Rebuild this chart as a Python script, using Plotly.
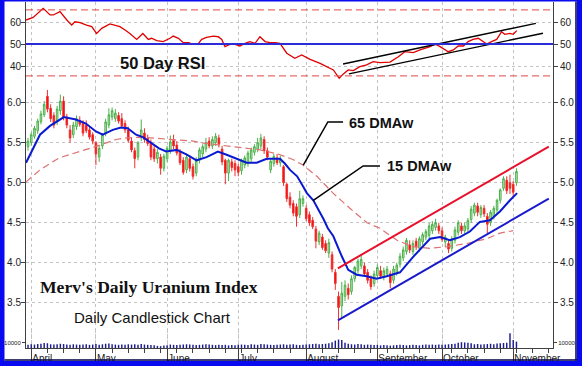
import plotly.graph_objects as go

# ---------------- data ----------------
# trading-day index (0 = last day of March, 150 = 1 November)
day = list(range(152))
opn = [5.45, 5.50, 5.58, 5.65, 5.76, 5.85, 6.08, 5.93, 5.84, 5.76,
       5.90, 6.02, 5.82, 5.66, 5.60, 5.70, 5.78, 5.74, 5.72, 5.66,
       5.60, 5.50, 5.32, 5.46, 5.62, 5.72, 5.82, 5.80, 5.84, 5.80,
       5.74, 5.66, 5.52, 5.40, 5.32, 5.56, 5.62, 5.56, 5.50, 5.42,
       5.30, 5.32, 5.18, 5.30, 5.40, 5.53, 5.47, 5.38, 5.28, 5.16,
       5.30, 5.20, 5.12, 5.28, 5.36, 5.42, 5.52, 5.46, 5.50, 5.56,
       5.42, 5.28, 5.12, 5.26, 5.24, 5.20, 5.15, 5.22, 5.24, 5.30,
       5.38, 5.42, 5.46, 5.54, 5.40, 5.16, 5.24, 5.31, 5.25, 5.20,
       4.98, 4.82, 4.74, 4.70, 4.60, 4.74, 4.68, 4.60, 4.53, 4.42,
       4.26, 4.32, 4.24, 4.12, 4.10, 3.88, 3.58, 3.46, 3.58, 3.68,
       3.64, 3.80, 3.90, 3.96, 3.96, 3.88, 3.80, 3.74, 3.84, 3.90,
       3.82, 3.86, 3.86, 3.78, 3.88, 3.98, 4.06, 4.14, 4.22, 4.14,
       4.27, 4.18, 4.26, 4.32, 4.34, 4.40, 4.44, 4.46, 4.40, 4.26,
       4.24, 4.18, 4.28, 4.38, 4.46, 4.40, 4.42, 4.54, 4.62, 4.71,
       4.60, 4.68, 4.58, 4.50, 4.58, 4.66, 4.78, 4.93, 5.03, 5.00,
       4.98, 5.00]
high = [5.56, 5.63, 5.71, 5.80, 5.90, 6.02, 6.16, 5.98, 5.88, 5.96,
        6.10, 6.08, 5.86, 5.72, 5.76, 5.84, 5.83, 5.78, 5.78, 5.70,
        5.63, 5.52, 5.46, 5.62, 5.80, 5.93, 5.94, 5.92, 5.88, 5.87,
        5.78, 5.70, 5.56, 5.44, 5.52, 5.79, 5.68, 5.60, 5.54, 5.46,
        5.42, 5.36, 5.36, 5.46, 5.59, 5.60, 5.52, 5.42, 5.32, 5.36,
        5.34, 5.24, 5.32, 5.44, 5.48, 5.56, 5.57, 5.58, 5.62, 5.60,
        5.46, 5.30, 5.30, 5.30, 5.28, 5.24, 5.30, 5.34, 5.40, 5.44,
        5.48, 5.56, 5.61, 5.58, 5.44, 5.30, 5.36, 5.36, 5.34, 5.22,
        5.00, 4.88, 4.78, 4.74, 4.90, 4.84, 4.72, 4.64, 4.57, 4.46,
        4.40, 4.36, 4.28, 4.30, 4.14, 3.92, 3.64, 3.76, 3.78, 3.74,
        3.84, 3.96, 4.05, 4.10, 4.00, 3.92, 3.84, 3.90, 3.98, 3.96,
        3.94, 3.96, 3.90, 3.96, 4.00, 4.12, 4.20, 4.31, 4.28, 4.28,
        4.31, 4.33, 4.38, 4.42, 4.50, 4.52, 4.55, 4.50, 4.44, 4.35,
        4.28, 4.33, 4.45, 4.53, 4.50, 4.50, 4.56, 4.71, 4.75, 4.75,
        4.72, 4.72, 4.62, 4.66, 4.71, 4.80, 4.93, 5.08, 5.08, 5.10,
        5.02, 5.18]
low = [5.40, 5.46, 5.55, 5.61, 5.73, 5.82, 5.88, 5.76, 5.68, 5.72,
       5.85, 5.78, 5.68, 5.50, 5.56, 5.66, 5.70, 5.58, 5.62, 5.54,
       5.48, 5.22, 5.26, 5.42, 5.58, 5.68, 5.78, 5.76, 5.74, 5.68,
       5.62, 5.50, 5.38, 5.18, 5.28, 5.52, 5.50, 5.46, 5.28, 5.26,
       5.24, 5.10, 5.14, 5.26, 5.36, 5.42, 5.34, 5.22, 5.10, 5.12,
       5.14, 5.04, 5.08, 5.24, 5.32, 5.38, 5.43, 5.42, 5.46, 5.44,
       5.22, 4.98, 5.02, 5.14, 5.08, 5.08, 5.10, 5.18, 5.20, 5.26,
       5.34, 5.38, 5.42, 5.36, 5.28, 5.12, 5.20, 5.22, 5.20, 4.96,
       4.76, 4.68, 4.58, 4.45, 4.56, 4.70, 4.52, 4.46, 4.42, 4.18,
       4.22, 4.16, 4.12, 4.06, 3.88, 3.66, 3.16, 3.30, 3.52, 3.54,
       3.60, 3.76, 3.86, 3.92, 3.84, 3.74, 3.66, 3.70, 3.80, 3.80,
       3.78, 3.82, 3.68, 3.74, 3.84, 3.94, 4.02, 4.10, 4.12, 4.10,
       4.16, 4.14, 4.22, 4.28, 4.30, 4.36, 4.40, 4.36, 4.26, 4.20,
       4.12, 4.14, 4.24, 4.34, 4.36, 4.36, 4.38, 4.50, 4.58, 4.58,
       4.56, 4.57, 4.37, 4.46, 4.54, 4.62, 4.74, 4.90, 4.86, 4.86,
       4.82, 4.96]
close = [5.52, 5.60, 5.68, 5.77, 5.86, 5.98, 5.92, 5.80, 5.72, 5.92,
         6.02, 5.82, 5.72, 5.56, 5.72, 5.80, 5.73, 5.62, 5.65, 5.57,
         5.52, 5.36, 5.43, 5.60, 5.76, 5.85, 5.90, 5.87, 5.77, 5.71,
         5.66, 5.53, 5.41, 5.30, 5.50, 5.66, 5.54, 5.49, 5.32, 5.30,
         5.38, 5.18, 5.33, 5.43, 5.51, 5.46, 5.37, 5.25, 5.13, 5.32,
         5.18, 5.08, 5.28, 5.41, 5.45, 5.50, 5.46, 5.54, 5.58, 5.48,
         5.26, 5.12, 5.28, 5.19, 5.16, 5.13, 5.28, 5.31, 5.37, 5.41,
         5.45, 5.50, 5.56, 5.40, 5.32, 5.27, 5.33, 5.25, 5.30, 5.00,
         4.80, 4.72, 4.62, 4.58, 4.80, 4.80, 4.55, 4.50, 4.45, 4.27,
         4.37, 4.19, 4.15, 4.25, 3.92, 3.74, 3.44, 3.62, 3.72, 3.60,
         3.80, 3.94, 4.02, 4.04, 3.86, 3.78, 3.70, 3.86, 3.94, 3.83,
         3.90, 3.92, 3.75, 3.92, 3.97, 4.08, 4.16, 4.28, 4.16, 4.24,
         4.20, 4.30, 4.35, 4.39, 4.46, 4.48, 4.50, 4.40, 4.29, 4.32,
         4.17, 4.30, 4.41, 4.50, 4.40, 4.46, 4.53, 4.67, 4.72, 4.63,
         4.69, 4.61, 4.48, 4.63, 4.68, 4.78, 4.91, 5.05, 4.90, 4.93,
         4.88, 5.14]
volume = [6000, 7000, 6500, 7500, 8000, 9500, 9000, 7000, 6500, 7000,
          8000, 7500, 6500, 6000, 7000, 6500, 6000, 6500, 7000, 6000,
          6500, 7500, 6000, 7000, 8000, 8500, 7000, 6500, 6000, 6500,
          6000, 7000, 6500, 7000, 6000, 7500, 6500, 6000, 5500, 5000,
          4000, 3500, 4500, 5000, 6500, 6000, 5500, 6000, 6500, 7000,
          6500, 6000, 5500, 6000, 6500, 7000, 6500, 6000, 5500, 6000,
          5500, 6000, 5000, 5500, 5000, 6000, 6500, 6000, 5500, 7000,
          6500, 6000, 7500, 7000, 6500, 6000, 5500, 6000, 6500, 7000,
          6000, 6500, 7000, 6000, 5500, 6000, 6500, 7000, 7500, 8000,
          7000, 7500, 8000, 9000, 11000, 14000, 16000, 15000, 10000, 8000,
          7000, 6500, 7500, 7000, 6000, 6500, 6000, 5500, 6000, 5000,
          5500, 5000, 4500, 5000, 5500, 6000, 5500, 5000, 5500, 6000,
          5500, 5000, 6000, 6500, 6000, 6500, 6000, 6500, 6000, 6500,
          7000, 7500, 8000, 10000, 11000, 10500, 10000, 9000, 7000, 7500,
          6500, 7000, 7500, 8000, 7000, 8500, 9000, 9500, 10000, 28000,
          15000, 12000]

ma15_day = [-0.6, 3.7, 6.8, 11.1, 14.8, 17.9, 21.0, 23.1, 26.2, 28.7, 30.8, 33.4,
            35.5, 37.4, 40.5, 42.7, 46.0, 49.1, 52.1, 55.2, 58.7, 61.4, 64.5,
            67.6, 70.7, 73.8, 77.9, 79.4, 81.0, 83.2, 85.1, 86.2, 88.2, 89.3,
            91.3, 92.7, 94.4, 97.0, 99.0, 101.6, 104.7, 107.8, 110.9, 115.0,
            119.0, 124.3, 127.4, 130.4, 133.5, 136.6, 139.7, 142.8, 145.9,
            149.0, 151.2]
ma15_val = [5.25, 5.60, 5.71, 5.82, 5.79, 5.74, 5.64, 5.60, 5.66, 5.69, 5.68, 5.60,
            5.57, 5.52, 5.43, 5.39, 5.41, 5.35, 5.28, 5.32, 5.39, 5.35, 5.30,
            5.25, 5.25, 5.30, 5.30, 5.24, 5.16, 5.08, 4.95, 4.87, 4.78, 4.70,
            4.55, 4.43, 4.33, 4.08, 3.91, 3.85, 3.83, 3.80, 3.83, 3.88,
            4.07, 4.30, 4.32, 4.28, 4.32, 4.39, 4.51, 4.53, 4.64,
            4.78, 4.87]

ma65_day = [-0.6, 3.7, 9.6, 12.0, 20.0, 22.3, 27.2, 30.3, 34.6, 40.8, 47.0, 51.0,
            53.2, 59.4, 66.5, 71.7, 73.9, 77.9, 81.9, 85.0, 89.3, 91.2, 94.3,
            99.5, 101.7, 104.8, 108.8, 114.1, 119.0, 124.3, 129.5, 135.7,
            141.9, 145.9, 150.0]
ma65_val = [5.01, 5.16, 5.31, 5.34, 5.44, 5.47, 5.54, 5.56, 5.57, 5.55, 5.53, 5.52,
            5.50, 5.47, 5.43, 5.41, 5.39, 5.35, 5.29, 5.22, 5.08, 5.00, 4.87,
            4.68, 4.60, 4.50, 4.43, 4.28, 4.20, 4.18, 4.20, 4.24,
            4.30, 4.37, 4.40]

rsi_day = [-0.6, 1.6, 4.7, 6.8, 7.8, 9.9, 12.0, 13.5, 14.5, 16.1, 18.1, 19.7,
           21.2, 22.8, 25.3, 26.9, 28.4, 30.0, 31.5, 33.6, 35.5, 37.2, 38.2,
           39.8, 41.8, 43.9, 44.9, 46.5, 48.0, 49.6, 51.1, 52.7, 53.7, 55.2,
           57.3, 58.8, 59.9, 60.9, 62.4, 64.0, 65.5, 67.1, 68.6, 70.2, 71.7,
           73.3, 74.8, 76.4, 77.9, 80.0, 82.5, 84.6, 87.2, 90.3, 92.3, 94.4,
           96.2, 97.5, 99.0, 100.6, 102.6, 104.7, 106.7, 108.8, 111.9, 114.5,
           116.5, 119.1, 121.2, 124.3, 125.8, 127.4, 129.9, 131.5, 133.0,
           134.6, 136.1, 137.6, 139.2, 140.2, 141.8, 143.3, 144.9, 146.4,
           147.4, 149.0, 150.0, 151.1]
rsi_val = [60.9, 62.1, 66.2, 63.2, 63.2, 64.7, 60.9, 58.6, 60.1, 59.7, 58.6, 57.9,
           54.8, 57.1, 59.1, 58.6, 57.9, 56.4, 54.8, 52.1, 54.8, 52.1, 52.6,
           51.5, 51.1, 52.6, 53.6, 52.6, 50.6, 50.6, 49.8, 50.3, 52.1, 53.0,
           53.6, 53.3, 52.1, 48.8, 49.8, 49.8, 49.1, 50.3, 51.1, 50.3, 53.3,
           51.1, 50.6, 50.6, 50.3, 45.8, 43.5, 45.0, 43.0, 41.2, 39.7, 38.2,
           34.4, 36.4, 38.2, 37.9, 39.7, 40.5, 42.0, 41.5, 41.8, 44.2,
           46.5, 46.1, 47.3, 48.8, 50.0, 48.8, 46.5, 47.3, 49.1,
           49.1, 51.1, 52.1, 52.6, 51.5, 50.0, 51.1, 52.1, 55.6,
           54.4, 54.8, 54.4, 56.1]

month_day = [1, 21, 43, 65, 86, 108, 128, 150]
month_name = ["April", "May", "June", "July", "August", "September", "October", "November"]
price_ticks = [3.5, 4.0, 4.5, 5.0, 5.5, 6.0]
rsi_ticks = [40, 50, 60]
rsi_mid, rsi_hi, rsi_lo = 50, 65.5, 35.5
vol_ticks = [10000]

chan_up_day, chan_up_val = [95.8, 161.0], [3.93, 5.45]
chan_lo_day, chan_lo_val = [95.8, 161.0], [3.28, 4.80]
rsi_up_day, rsi_up_val = [97.4, 157.0], [40.9, 59.4]
rsi_lo_day, rsi_lo_val = [99.2, 159.2], [36.4, 54.9]

# ---------------- geometry helpers (pixel -> paper) ----------------
PL, PR, PT, PB = 26, 553, 2, 348


def fx(p):
    return (p - PL) / (PR - PL)


def fy(p):
    return (PB - p) / (PB - PT)


SANS = "Liberation Sans, Arial, sans-serif"
SERIF = "Liberation Serif, Times New Roman, serif"
GRID = "#c4c4c4"
AX = "#404040"

fig = go.Figure()

fig.add_trace(go.Bar(x=day, y=volume, yaxis="y3", width=0.45,
                     marker=dict(color="#1c1c8c", line=dict(width=0)),
                     hoverinfo="skip"))

fig.add_trace(go.Scatter(x=ma65_day, y=ma65_val, mode="lines",
                         line=dict(color="#e07070", width=1.2, dash="7px,4px"),
                         hoverinfo="skip"))

fig.add_trace(go.Candlestick(
    x=day, open=opn, high=high, low=low, close=close,
    increasing=dict(line=dict(color="#4cb04c", width=1), fillcolor="#c2e8bc"),
    decreasing=dict(line=dict(color="#ee3030", width=1), fillcolor="#ff0000"),
    whiskerwidth=0, hoverinfo="skip"))

fig.add_trace(go.Scatter(x=ma15_day, y=ma15_val, mode="lines",
                         line=dict(color="#0a1ad0", width=2), hoverinfo="skip"))

fig.add_trace(go.Scatter(x=chan_up_day, y=chan_up_val, mode="lines",
                         line=dict(color="#e8102a", width=2), hoverinfo="skip"))
fig.add_trace(go.Scatter(x=chan_lo_day, y=chan_lo_val, mode="lines",
                         line=dict(color="#1a1acc", width=2), hoverinfo="skip"))

fig.add_trace(go.Scatter(x=rsi_day, y=rsi_val, yaxis="y2", mode="lines",
                         line=dict(color="#e00000", width=1.3), hoverinfo="skip"))
fig.add_trace(go.Scatter(x=rsi_up_day, y=rsi_up_val, yaxis="y2", mode="lines",
                         line=dict(color="#000000", width=1.4), hoverinfo="skip"))
fig.add_trace(go.Scatter(x=rsi_lo_day, y=rsi_lo_val, yaxis="y2", mode="lines",
                         line=dict(color="#000000", width=1.4), hoverinfo="skip"))

# dummy traces so that the right-hand mirror axes are drawn
for ax in ["y4", "y5", "y6"]:
    fig.add_trace(go.Scatter(x=[None], y=[None], yaxis=ax, mode="lines",
                             hoverinfo="skip"))

rsi_dom = [fy(88), 1.0]
price_dom = [0.0, fy(88)]
vol_dom = [0.0, fy(330)]
price_range = [6.0 - (PB - 102.7) / 80.0, 6.0 + (102.7 - 88) / 80.0]
rsi_range = [50 - (88 - 44) / 2.2, 50 + (44 - PT) / 2.2]
vol_range = [0, 34000]

tickfont = dict(family=SANS, size=10, color="#222")
common_y = dict(ticks="outside", ticklen=4, tickcolor=AX, tickfont=tickfont,
                zeroline=False, fixedrange=True)

fig.update_layout(
    width=582, height=366,
    margin=dict(l=PL, r=582 - PR, t=PT, b=366 - PB, pad=0),
    paper_bgcolor="white", plot_bgcolor="rgba(0,0,0,0)",
    showlegend=False, hovermode=False, dragmode=False,
    font=dict(family=SANS, size=10, color="#222"),
    xaxis=dict(range=[-0.62, 162.3], anchor="y", tickmode="array",
               tickvals=month_day, ticktext=month_name,
               ticks="outside", ticklen=12, tickcolor=AX, tickfont=tickfont,
               ticklabelposition="outside right", ticklabelstandoff=1,
               showgrid=True, gridcolor=GRID, griddash="dot", gridwidth=1,
               showline=True, linecolor=AX, linewidth=1, zeroline=False,
               rangeslider=dict(visible=False), fixedrange=True,
               minor=dict(tickmode="linear", tick0=1, dtick=5, ticks="outside",
                          ticklen=4, tickcolor=AX, showgrid=False)),
    yaxis=dict(domain=price_dom, range=price_range, tickvals=price_ticks,
               tickformat=".1f", showgrid=True, gridcolor=GRID, griddash="dot",
               showline=True, linecolor=AX, linewidth=1, ticklabelstandoff=-2,
               **common_y),
    yaxis4=dict(overlaying="y", side="right", range=price_range,
                tickvals=price_ticks, tickformat=".1f", showgrid=False,
                showline=True, linecolor=AX, linewidth=1, anchor="x", **common_y),
    yaxis2=dict(domain=rsi_dom, range=rsi_range, tickvals=rsi_ticks, anchor="x",
                showgrid=True, gridcolor=GRID, griddash="dot",
                showline=True, linecolor=AX, linewidth=1, ticklabelstandoff=-2,
                **common_y),
    yaxis5=dict(overlaying="y2", side="right", range=rsi_range, tickvals=rsi_ticks,
                showgrid=False, showline=True, linecolor=AX, linewidth=1,
                anchor="x", **common_y),
    yaxis3=dict(domain=vol_dom, range=vol_range, tickvals=vol_ticks, anchor="x",
                ticktext=["10000"], showgrid=False, showline=False,
                ticks="outside", ticklen=3, tickcolor=AX,
                tickfont=dict(family=SANS, size=6, color="#222"),
                zeroline=False, fixedrange=True),
    yaxis6=dict(overlaying="y3", side="right", range=vol_range, tickvals=vol_ticks,
                ticktext=["10000"], showgrid=False, showline=False, anchor="x",
                ticks="outside", ticklen=3, tickcolor=AX,
                tickfont=dict(family=SANS, size=6, color="#222"),
                zeroline=False, fixedrange=True),
)

shapes = []
# RSI reference levels
shapes.append(dict(type="line", xref="paper", yref="y2", x0=0, x1=1,
                   y0=rsi_mid, y1=rsi_mid, line=dict(color="#2b2bd8", width=2)))
for lv in (rsi_hi, rsi_lo):
    shapes.append(dict(type="line", xref="paper", yref="y2", x0=0, x1=1,
                       y0=lv, y1=lv, line=dict(color="#e04848", width=1, dash="7px,4px")))
# leader lines for the moving-average labels
shapes.append(dict(type="path", xref="x", yref="y",
                   path="M 97.4,5.76 L 92.7,5.76 L 85.1,5.22",
                   line=dict(color="#000", width=1.5)))
shapes.append(dict(type="path", xref="x", yref="y",
                   path="M 108.8,5.21 L 103.6,5.21 L 88.1,4.775",
                   line=dict(color="#000", width=1.5)))
# blue frame around the picture
BLUE = "#0a0af0"
frame = [(0, 0, 4.5, 366), (577, 0, 582, 366), (0, 0, 582, 1.5), (0, 361, 582, 366)]
for x0, y0, x1, y1 in frame:
    shapes.append(dict(type="rect", xref="paper", yref="paper",
                       x0=fx(x0), x1=fx(x1), y0=fy(y1), y1=fy(y0),
                       fillcolor=BLUE, line=dict(width=0), layer="above"))
shapes.append(dict(type="line", xref="paper", yref="paper", x0=fx(576), x1=fx(576),
                   y0=fy(360.5), y1=fy(1.5), line=dict(color="#000040", width=1.5)))
shapes.append(dict(type="line", xref="paper", yref="paper", x0=fx(4.5), x1=fx(577),
                   y0=fy(360), y1=fy(360), line=dict(color="#000040", width=1.5)))
fig.update_layout(shapes=shapes)

ann = [
    ("<b>50 Day RSI</b>", 118, 63, SANS, 16.5),
    ("<b>65 DMAw</b>", 347, 122.5, SANS, 14.5),
    ("<b>15 DMAw</b>", 385, 165.5, SANS, 14.5),
    ("<b>Merv's Daily Uranium Index</b>", 38, 287, SERIF, 17.6),
    ("Daily Candlestick Chart", 72, 317, SANS, 15),
]
fig.update_layout(annotations=[
    dict(text=t, x=fx(xp), y=fy(yp), xref="paper", yref="paper",
         xanchor="left", yanchor="middle", showarrow=False,
         font=dict(family=f, size=s, color="#111"))
    for t, xp, yp, f, s in ann])

fig.write_html("out.html",
               config={"displayModeBar": False, "staticPlot": True},
               post_script="document.body.style.margin='0px';"
                           "document.body.style.overflow='hidden';")
